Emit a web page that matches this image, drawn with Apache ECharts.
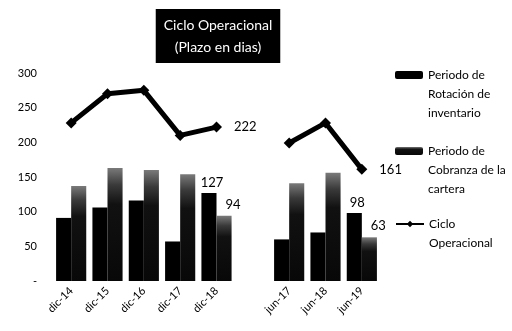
<!DOCTYPE html>
<html>
<head>
<meta charset="utf-8">
<script src="https://cdn.jsdelivr.net/npm/echarts@6/dist/echarts.min.js"></script>
<style>
  html, body { margin: 0; padding: 0; background: #fff; }
  #chart { width: 512px; height: 331px; }
</style>
</head>
<body>
<div id="chart"></div>
<script>
  // periodos (el hueco separa los cierres anuales de los semestrales)
  var categories = ['dic-14', 'dic-15', 'dic-16', 'dic-17', 'dic-18', '', 'jun-17', 'jun-18', 'jun-19'];
  var rotacion = [91, 106, 116, 57, 127, null, 60, 70, 98];
  var cobranza = [137, 163, 160, 154, 94, null, 141, 156, 63];
  var ciclo = [228, 270, 275, 210, 222, null, 199, 228, 161];
  var yTicks = [0, 50, 100, 150, 200, 250, 300];

  var font = 'Lato, "Open Sans", sans-serif';
  var lastIdx = [4, 8]; // solo se rotulan los ultimos puntos de cada tramo

  function withLabels(arr, label) {
    return arr.map(function (v, i) {
      if (lastIdx.indexOf(i) >= 0 && v != null) {
        return {value: v, label: label};
      }
      return v;
    });
  }

  // lineas vacias delante para que el icono quede junto a la primera linea
  var legendText = {
    'Periodo de Rotación de inventario': '\n\nPeriodo de\nRotación de\ninventario',
    'Periodo de Cobranza de la cartera': '\n\nPeriodo de\nCobranza de la\ncartera',
    'Ciclo Operacional': '\nCiclo\nOperacional'
  };
  function legendItem(name, top) {
    return {
      data: [name],
      left: 395, top: top, padding: 0,
      itemWidth: 28, itemHeight: 8,
      formatter: function (n) { return legendText[n]; },
      textStyle: {fontFamily: font, fontSize: 12, color: '#000', lineHeight: 19}
    };
  }

  var chart = echarts.init(document.getElementById('chart'));
  var option = {
    backgroundColor: '#fff',
    animation: false,
    title: {
      text: 'Ciclo Operacional\n(Plazo en dias)',
      left: 210,
      top: 9,
      textAlign: 'center',
      backgroundColor: '#000',
      padding: [5, 8, 5, 8],
      textStyle: {
        color: '#fff',
        fontFamily: font,
        fontSize: 14,
        fontWeight: 'normal',
        lineHeight: 22
      }
    },
    legend: [
      legendItem('Periodo de Rotación de inventario', 27.5),
      legendItem('Periodo de Cobranza de la cartera', 103.5),
      legendItem('Ciclo Operacional', 195.5)
    ],
    grid: {
      left: 53,
      right: 132,
      top: 73,
      bottom: 50,
      containLabel: false
    },
    xAxis: {
      type: 'category',
      data: categories,
      axisLine: {show: false},
      axisTick: {show: false},
      axisLabel: {
        rotate: 45,
        margin: 8,
        interval: 0,
        color: '#000',
        fontFamily: font,
        fontSize: 11
      }
    },
    yAxis: {
      type: 'value',
      min: yTicks[0],
      max: yTicks[yTicks.length - 1],
      interval: 50,
      splitLine: {show: false},
      axisLine: {show: false},
      axisTick: {show: false},
      axisLabel: {
        margin: 16,
        color: '#000',
        fontFamily: font,
        fontSize: 11,
        formatter: function (v) { return v === 0 ? '-' : v; }
      }
    },
    series: [
      {
        name: 'Periodo de Rotación de inventario',
        type: 'bar',
        barGap: '0%',
        barCategoryGap: '17%',
        itemStyle: {color: '#000'},
        data: withLabels(rotacion, {
          show: true, position: 'top', distance: 4, offset: [3, 0],
          color: '#000', fontFamily: font, fontSize: 13
        })
      },
      {
        name: 'Periodo de Cobranza de la cartera',
        type: 'bar',
        itemStyle: {
          //degradado que imita el tramado del original
          color: new echarts.graphic.LinearGradient(0, 0, 0, 1, [
            {offset: 0, color: '#7a7a7a'},
            {offset: 0.15, color: '#3a3a3a'},
            {offset: 0.32, color: '#111'},
            {offset: 1, color: '#080808'}
          ])
        },
        data: withLabels(cobranza, {
          show: true, position: 'top', distance: 5, offset: [9, 0],
          color: '#000', fontFamily: font, fontSize: 13
        })
      },
      {
        name: 'Ciclo Operacional',
        type: 'line',
        connectNulls: false,
        symbol: 'diamond',
        symbolSize: 11,
        lineStyle: {color: '#000', width: 5},
        itemStyle: {color: '#000'},
        data: withLabels(ciclo, {
          show: true, position: 'right', distance: 12,
          color: '#000', fontFamily: font, fontSize: 13
        })
      }
    ]
  };
  chart.setOption(option);
</script>
</body>
</html>
